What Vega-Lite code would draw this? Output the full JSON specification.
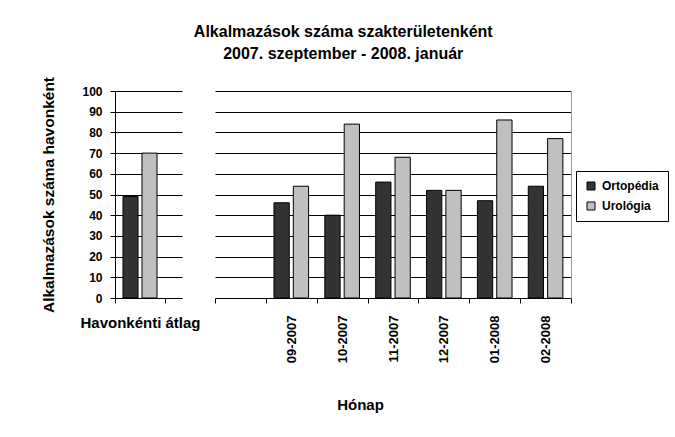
{
  "$schema": "https://vega.github.io/schema/vega-lite/v6.json",
  "padding": {"left": 41, "top": 24, "right": 5, "bottom": 5},
  "background": "white",
  "config": {
    "font": "Liberation Sans",
    "view": {"stroke": null},
    "axis": {"labelFont": "Liberation Sans", "titleFont": "Liberation Sans", "labelColor": "black", "titleColor": "black", "domainColor": "black", "tickColor": "black", "gridColor": "black", "gridOpacity": 1, "labelFontWeight": "bold", "titleFontWeight": "bold"},
    "legend": {"labelFont": "Liberation Sans"}
  },
  "title": {
    "text": ["Alkalmazások száma szakterületenként", "2007. szeptember - 2008. január"],
    "font": "Liberation Sans",
    "fontSize": 16,
    "fontWeight": "bold",
    "lineHeight": 22,
    "color": "black",
    "anchor": "middle",
    "offset": 14,
    "dx": -12
  },
  "datasets": {
    "avg": [
      {"kategoria": "Havonkénti átlag", "szakterulet": "Ortopédia", "ertek": 49},
      {"kategoria": "Havonkénti átlag", "szakterulet": "Urológia", "ertek": 70}
    ],
    "monthly": [
      {"honap": "09-2007", "szakterulet": "Ortopédia", "ertek": 46},
      {"honap": "09-2007", "szakterulet": "Urológia", "ertek": 54},
      {"honap": "10-2007", "szakterulet": "Ortopédia", "ertek": 40},
      {"honap": "10-2007", "szakterulet": "Urológia", "ertek": 84},
      {"honap": "11-2007", "szakterulet": "Ortopédia", "ertek": 56},
      {"honap": "11-2007", "szakterulet": "Urológia", "ertek": 68},
      {"honap": "12-2007", "szakterulet": "Ortopédia", "ertek": 52},
      {"honap": "12-2007", "szakterulet": "Urológia", "ertek": 52},
      {"honap": "01-2008", "szakterulet": "Ortopédia", "ertek": 47},
      {"honap": "01-2008", "szakterulet": "Urológia", "ertek": 86},
      {"honap": "02-2008", "szakterulet": "Ortopédia", "ertek": 54},
      {"honap": "02-2008", "szakterulet": "Urológia", "ertek": 77}
    ]
  },
  "resolve": {"scale": {"color": "shared", "y": "independent", "x": "independent", "xOffset": "independent"}},
  "bounds": "flush",
  "spacing": 33,
  "hconcat": [
    {
      "data": {"name": "avg"},
      "width": 67,
      "height": 207,
      "mark": {"type": "bar", "stroke": "black", "strokeWidth": 1},
      "encoding": {
        "x": {
          "field": "kategoria", "type": "nominal",
          "scale": {"paddingInner": 0, "paddingOuter": 0.17, "align": 0},
          "axis": {"title": null, "labelAngle": 0, "labelFontSize": 15, "tickBand": "extent", "tickSize": 5, "labelPadding": 12}
        },
        "xOffset": {"field": "szakterulet", "type": "nominal", "scale": {"paddingInner": 0.21, "paddingOuter": 0.42}},
        "y": {
          "field": "ertek", "type": "quantitative",
          "scale": {"domain": [0, 100], "nice": false},
          "axis": {"title": "Alkalmazások száma havonként", "values": [0, 10, 20, 30, 40, 50, 60, 70, 80, 90, 100], "labelFontSize": 12, "titleFontSize": 15.5, "tickSize": 5, "labelPadding": 8, "titlePadding": 25, "grid": true}
        },
        "color": {
          "field": "szakterulet", "type": "nominal",
          "scale": {"domain": ["Ortopédia", "Urológia"], "range": ["#333333", "#c0c0c0"]},
          "legend": {"title": null, "orient": "none", "legendX": 461, "legendY": 80, "symbolType": "square", "symbolSize": 64, "symbolStrokeColor": "black", "symbolStrokeWidth": 1, "labelFontSize": 12, "labelOffset": 5, "labelFontWeight": "bold", "labelColor": "black", "strokeColor": "black", "padding": 9, "rowPadding": 8, "fillColor": "white"}
        }
      }
    },
    {
      "data": {"name": "monthly"},
      "width": 356,
      "height": 207,
      "mark": {"type": "bar", "stroke": "black", "strokeWidth": 1},
      "encoding": {
        "x": {
          "field": "honap", "type": "nominal",
          "scale": {"domain": [" ", "09-2007", "10-2007", "11-2007", "12-2007", "01-2008", "02-2008"], "paddingInner": 0, "paddingOuter": 0},
          "axis": {"title": "Hónap", "titleFontSize": 15, "titlePadding": 35, "titleX": 145, "titleAlign": "center", "labelAngle": -90, "labelFontSize": 13, "tickBand": "extent", "tickSize": 5, "labelPadding": 12}
        },
        "xOffset": {"field": "szakterulet", "type": "nominal", "scale": {"paddingInner": 0.21, "paddingOuter": 0.42}},
        "y": {
          "field": "ertek", "type": "quantitative",
          "scale": {"domain": [0, 100], "nice": false},
          "axis": {"orient": "right", "title": null, "labels": false, "ticks": false, "domainColor": "#999999", "values": [0, 10, 20, 30, 40, 50, 60, 70, 80, 90, 100], "grid": true}
        },
        "color": {"field": "szakterulet", "type": "nominal"}
      }
    }
  ]
}
